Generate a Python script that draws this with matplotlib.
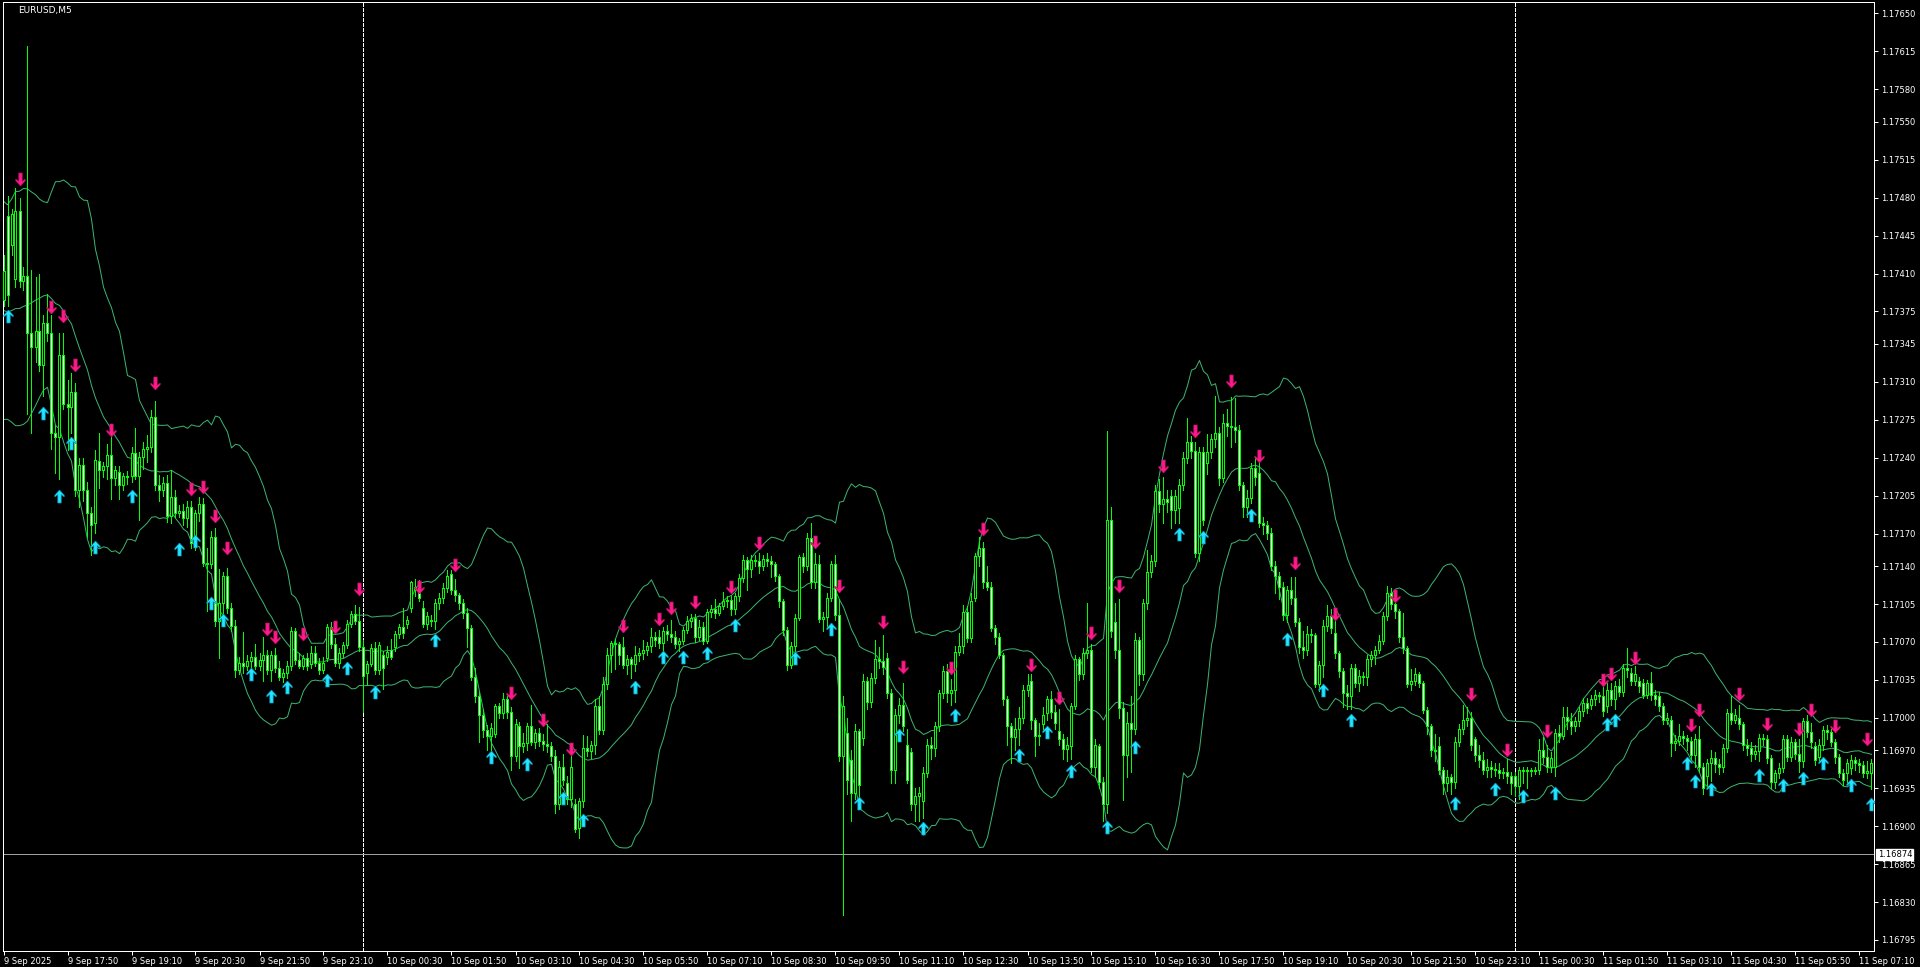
import numpy as np
import pandas as pd
import matplotlib
matplotlib.use("Agg")
import matplotlib.pyplot as plt
from matplotlib.path import Path
import matplotlib.transforms as mtransforms

# EURUSD M5, 9 Sep 16:30 -> 11 Sep 07:25, prices as 1.xxxxx -> stored as xxxxx (+1.0)
opens = [
    17386, 17463, 17436, 17405, 17468, 17403, 17408, 17355, 17342, 17357,
    17326, 17364, 17355, 17263, 17259, 17335, 17290, 17287, 17301, 17210,
    17233, 17210, 17189, 17180, 17237, 17229, 17232, 17243, 17221, 17227,
    17215, 17223, 17223, 17244, 17223, 17241, 17248, 17250, 17278, 17215,
    17210, 17217, 17186, 17204, 17189, 17191, 17184, 17195, 17161, 17189,
    17197, 17143, 17142, 17167, 17089, 17106, 17131, 17101, 17085, 17044,
    17051, 17048, 17052, 17056, 17048, 17053, 17058, 17044, 17058, 17046,
    17038, 17041, 17048, 17080, 17053, 17048, 17055, 17050, 17060, 17051,
    17044, 17055, 17084, 17068, 17051, 17060, 17067, 17087, 17096, 17089,
    17065, 17041, 17050, 17064, 17044, 17058, 17056, 17063, 17065, 17077,
    17084, 17087, 17101, 17118, 17125, 17101, 17087, 17090, 17089, 17106,
    17111, 17120, 17133, 17118, 17113, 17106, 17097, 17083, 17038, 17020,
    17003, 16989, 16983, 16985, 17011, 17004, 17017, 17005, 16965, 16992,
    16974, 16977, 16992, 16978, 16986, 16979, 16976, 16974, 16965, 16920,
    16955, 16940, 16925, 16920, 16898, 16923, 16972, 16969, 16975, 17011,
    16989, 17031, 17058, 17069, 17068, 17065, 17049, 17054, 17050, 17058,
    17060, 17063, 17066, 17075, 17075, 17069, 17080, 17077, 17075, 17068,
    17071, 17081, 17089, 17092, 17075, 17084, 17071, 17098, 17100, 17097,
    17103, 17108, 17109, 17100, 17112, 17129, 17146, 17137, 17146, 17145,
    17140, 17147, 17145, 17142, 17131, 17108, 17081, 17049, 17066, 17092,
    17148, 17140, 17166, 17125, 17142, 17091, 17093, 17111, 17142, 17095,
    16965, 16986, 16961, 16931, 16988, 16981, 17034, 17015, 17037, 17054,
    17052, 17055, 17023, 16952, 17003, 17012, 16975, 16968, 16920, 16928,
    16923, 16949, 16975, 16972, 16992, 17023, 17043, 17023, 17026, 17061,
    17066, 17098, 17074, 17111, 17149, 17157, 17125, 17121, 17083, 17075,
    17058, 17017, 16992, 16982, 16990, 17000, 17026, 17034, 16998, 16983,
    16994, 17004, 17017, 17005, 16988, 16980, 16971, 16974, 17011, 17054,
    17040, 17060, 17063, 16955, 16974, 16941, 16920, 17183, 17088, 17063,
    17009, 16966, 16995, 16990, 17072, 17040, 17106, 17135, 17145, 17209,
    17197, 17202, 17205, 17192, 17194, 17215, 17240, 17255, 17246, 17152,
    17245, 17235, 17245, 17257, 17263, 17221, 17272, 17269, 17268, 17266,
    17215, 17195, 17203, 17231, 17226, 17180, 17178, 17171, 17140, 17131,
    17121, 17095, 17118, 17111, 17088, 17065, 17063, 17077, 17076, 17031,
    17049, 17085, 17094, 17078, 17060, 17043, 17023, 17020, 17046, 17032,
    17039, 17038, 17054, 17058, 17063, 17071, 17094, 17115, 17105, 17099,
    17075, 17064, 17031, 17034, 17040, 17032, 17007, 16992, 16970, 16974,
    16952, 16940, 16945, 16941, 16978, 16990, 16998, 17000, 16980, 16966,
    16961, 16952, 16955, 16953, 16952, 16949, 16950, 16946, 16946, 16937,
    16952, 16951, 16952, 16951, 16952, 16970, 16964, 16955, 16955, 16986,
    16983, 17001, 16997, 16992, 16997, 17006, 17014, 17012, 17017, 17021,
    17020, 17011, 17026, 17017, 17029, 17024, 17046, 17041, 17034, 17034,
    17032, 17021, 17032, 17021, 17020, 17011, 16998, 16998, 16977, 16979,
    16983, 16981, 16979, 16966, 16980, 16955, 16946, 16958, 16963, 16957,
    16955, 16972, 17004, 16998, 17000, 16994, 16975, 16972, 16967, 16969,
    16981, 16980, 16963, 16941, 16949, 16954, 16980, 16964, 16978, 16967,
    16960, 16997, 16987, 16974, 16964, 16975, 16989, 16987, 16978, 16964,
    16949, 16949, 16954, 16961, 16958, 16956, 16949, 16949,
]
highs = [
    17427, 17482, 17470, 17489, 17480, 17416, 17620, 17413, 17407, 17410,
    17372, 17391, 17372, 17270, 17355, 17355, 17312, 17318, 17309, 17240,
    17240, 17218, 17195, 17247, 17263, 17236, 17253, 17263, 17232, 17232,
    17226, 17228, 17250, 17267, 17245, 17255, 17261, 17284, 17292, 17224,
    17222, 17224, 17229, 17210, 17196, 17197, 17200, 17200, 17192, 17204,
    17203, 17157, 17172, 17175, 17137, 17135, 17138, 17106, 17090, 17056,
    17079, 17058, 17061, 17068, 17060, 17075, 17063, 17062, 17064, 17052,
    17045, 17052, 17084, 17083, 17060, 17058, 17060, 17066, 17066, 17055,
    17056, 17087, 17088, 17074, 17064, 17070, 17090, 17099, 17104, 17102,
    17072, 17052, 17068, 17070, 17070, 17062, 17066, 17073, 17080, 17087,
    17101, 17094, 17126, 17128, 17127, 17108, 17098, 17095, 17110, 17115,
    17124, 17136, 17136, 17128, 17115, 17110, 17101, 17086, 17046, 17024,
    17008, 16993, 16995, 17013, 17014, 17023, 17022, 17010, 16999, 16996,
    16986, 16995, 17012, 16990, 16991, 16985, 16994, 16978, 16970, 16960,
    16967, 16946, 16965, 16925, 16926, 16984, 16983, 16979, 17017, 17020,
    17038, 17064, 17071, 17073, 17070, 17075, 17058, 17056, 17066, 17064,
    17072, 17070, 17083, 17079, 17081, 17084, 17086, 17090, 17080, 17074,
    17084, 17094, 17096, 17096, 17090, 17088, 17100, 17104, 17110, 17106,
    17116, 17112, 17112, 17115, 17133, 17150, 17148, 17150, 17150, 17152,
    17150, 17152, 17149, 17144, 17133, 17110, 17084, 17070, 17096, 17150,
    17152, 17171, 17180, 17152, 17150, 17098, 17115, 17145, 17150, 17110,
    17020, 17000, 16970, 16994, 16990, 17040, 17038, 17041, 17072, 17065,
    17076, 17060, 17027, 17008, 17018, 17032, 16990, 16972, 16935, 16936,
    16955, 16980, 16982, 16996, 17026, 17048, 17050, 17036, 17066, 17078,
    17104, 17103, 17115, 17152, 17167, 17162, 17140, 17125, 17086, 17078,
    17060, 17020, 16995, 17000, 17010, 17030, 17040, 17040, 17000, 16995,
    17010, 17020, 17025, 17012, 17008, 16985, 16982, 17014, 17058, 17056,
    17064, 17106, 17068, 16980, 16976, 16945, 17265, 17195, 17106, 17110,
    17015, 17005, 17020, 17078, 17075, 17110, 17155, 17150, 17215, 17220,
    17222, 17210, 17210, 17210, 17220, 17245, 17277, 17260, 17255, 17250,
    17250, 17262, 17262, 17297, 17268, 17280, 17285, 17296, 17295, 17270,
    17218, 17210, 17235, 17240, 17235, 17185, 17182, 17175, 17145, 17135,
    17125, 17122, 17130, 17130, 17092, 17080, 17085, 17082, 17078, 17052,
    17090, 17104, 17100, 17090, 17062, 17046, 17030, 17050, 17050, 17044,
    17042, 17058, 17062, 17066, 17076, 17098, 17122, 17120, 17106, 17100,
    17097, 17066, 17045, 17046, 17042, 17034, 17010, 16994, 16985, 16982,
    16955, 16952, 16948, 16982, 16994, 17012, 17010, 17005, 16982, 16975,
    16968, 16962, 16960, 16958, 16958, 16954, 16962, 16950, 16950, 16955,
    16955, 16955, 16954, 16955, 16980, 16982, 16975, 16968, 16990, 16993,
    17010, 17010, 17004, 17001, 17010, 17018, 17018, 17021, 17026, 17024,
    17028, 17032, 17032, 17034, 17036, 17050, 17064, 17046, 17048, 17038,
    17036, 17035, 17042, 17026, 17024, 17014, 17004, 17002, 16984, 16994,
    16988, 16984, 16982, 16985, 16992, 16958, 16962, 16970, 16968, 16962,
    16976, 17008, 17020, 17008, 17012, 16996, 16980, 16978, 16975, 16985,
    16985, 16984, 16966, 16952, 16958, 16984, 16984, 16982, 16980, 16980,
    17000, 17003, 16995, 16978, 16980, 16992, 16993, 16990, 16980, 16967,
    16953, 16962, 16966, 16964, 16962, 16960, 16960, 16962,
]
lows = [
    17380, 17380, 17427, 17398, 17398, 17395, 17280, 17263, 17328, 17320,
    17297, 17348, 17248, 17226, 17220, 17285, 17247, 17263, 17205, 17195,
    17200, 17167, 17150, 17171, 17212, 17222, 17220, 17202, 17215, 17202,
    17210, 17216, 17218, 17220, 17183, 17230, 17236, 17245, 17210, 17200,
    17205, 17181, 17180, 17185, 17185, 17178, 17176, 17157, 17155, 17182,
    17140, 17099, 17138, 17085, 17055, 17095, 17097, 17080, 17038, 17040,
    17041, 17044, 17046, 17045, 17044, 17034, 17040, 17034, 17042, 17035,
    17033, 17037, 17044, 17050, 17046, 17045, 17044, 17046, 17048, 17040,
    17041, 17052, 17064, 17048, 17046, 17056, 17064, 17084, 17087, 17062,
    17005, 17030, 17048, 17040, 17040, 17027, 17050, 17054, 17062, 17074,
    17074, 17083, 17098, 17112, 17108, 17084, 17082, 17085, 17082, 17100,
    17106, 17116, 17114, 17108, 17100, 17092, 17065, 17035, 17015, 16978,
    16982, 16970, 16967, 16982, 17000, 17000, 17000, 16952, 16960, 16954,
    16968, 16970, 16975, 16972, 16974, 16970, 16968, 16960, 16912, 16916,
    16938, 16920, 16918, 16895, 16889, 16918, 16965, 16963, 16967, 16985,
    16985, 17027, 17042, 17045, 17050, 17046, 17040, 17037, 17043, 17052,
    17054, 17058, 17061, 17066, 17064, 17060, 17072, 17070, 17064, 17062,
    17068, 17078, 17084, 17070, 17072, 17068, 17069, 17093, 17092, 17095,
    17100, 17102, 17095, 17096, 17108, 17125, 17118, 17130, 17140, 17134,
    17136, 17140, 17130, 17126, 17102, 17076, 17044, 17046, 17062, 17090,
    17135, 17136, 17120, 17120, 17088, 17080, 17085, 17108, 17090, 16960,
    16818, 16930, 16905, 16925, 16928, 16975, 17008, 17010, 17032, 17046,
    17040, 17018, 16940, 16940, 16995, 16988, 16940, 16915, 16905, 16905,
    16908, 16945, 16962, 16965, 16988, 17018, 17015, 17012, 17015, 17058,
    17060, 17070, 17070, 17108, 17140, 17120, 17118, 17080, 17068, 17055,
    17012, 16975, 16958, 16970, 16975, 16995, 17020, 16990, 16965, 16975,
    16990, 16998, 17000, 16990, 16975, 16962, 16960, 16962, 17008, 17035,
    17036, 17055, 16950, 16945, 16935, 16905, 16912, 17075, 17055, 17000,
    16924, 16945, 16950, 16985, 17030, 17035, 17100, 17130, 17140, 17190,
    17180, 17190, 17175, 17180, 17180, 17210, 17235, 17240, 17148, 17145,
    17178, 17225, 17240, 17250, 17215, 17218, 17260, 17250, 17255, 17210,
    17185, 17185, 17198, 17215, 17176, 17170, 17165, 17136, 17115, 17110,
    17090, 17088, 17105, 17085, 17060, 17055, 17058, 17070, 17028, 17025,
    17038, 17080, 17078, 17055, 17038, 17010, 17008, 17008, 17028, 17025,
    17030, 17030, 17048, 17050, 17060, 17068, 17090, 17100, 17092, 17070,
    17060, 17028, 17026, 17030, 17028, 17004, 16985, 16965, 16960, 16948,
    16930, 16932, 16930, 16935, 16974, 16985, 16992, 16970, 16960, 16955,
    16948, 16945, 16945, 16946, 16944, 16944, 16940, 16930, 16928, 16925,
    16940, 16935, 16946, 16948, 16948, 16958, 16950, 16950, 16946, 16978,
    16980, 16990, 16985, 16988, 16992, 17002, 17004, 17008, 17012, 17015,
    17002, 17005, 17012, 17008, 17020, 17020, 17038, 17030, 17030, 17024,
    17018, 17018, 17016, 17012, 17006, 16994, 16994, 16965, 16970, 16975,
    16976, 16970, 16962, 16955, 16950, 16930, 16935, 16942, 16950, 16948,
    16950, 16968, 16994, 16995, 16990, 16970, 16966, 16960, 16962, 16960,
    16975, 16958, 16935, 16935, 16944, 16950, 16960, 16960, 16962, 16950,
    16955, 16982, 16972, 16956, 16960, 16970, 16980, 16974, 16958, 16945,
    16938, 16940, 16948, 16952, 16950, 16945, 16944, 16934,
]
closes = [
    17412, 17390, 17465, 17468, 17403, 17408, 17355, 17342, 17357, 17326,
    17364, 17355, 17263, 17259, 17335, 17290, 17287, 17301, 17210, 17233,
    17210, 17189, 17178, 17238, 17229, 17232, 17243, 17221, 17229, 17215,
    17223, 17222, 17244, 17223, 17241, 17248, 17250, 17278, 17215, 17210,
    17217, 17186, 17204, 17189, 17191, 17184, 17195, 17161, 17189, 17197,
    17143, 17142, 17167, 17089, 17106, 17131, 17101, 17085, 17044, 17051,
    17048, 17052, 17056, 17048, 17053, 17058, 17044, 17058, 17046, 17038,
    17041, 17048, 17080, 17053, 17048, 17055, 17048, 17060, 17051, 17044,
    17051, 17084, 17068, 17051, 17060, 17067, 17087, 17096, 17089, 17065,
    17039, 17050, 17064, 17044, 17067, 17046, 17061, 17056, 17077, 17084,
    17078, 17090, 17125, 17121, 17111, 17087, 17094, 17089, 17106, 17111,
    17120, 17131, 17118, 17113, 17106, 17097, 17083, 17038, 17020, 17003,
    16989, 16983, 16991, 17011, 17004, 17017, 17005, 16965, 16994, 16974,
    16977, 16992, 16978, 16986, 16979, 16976, 16974, 16965, 16920, 16955,
    16943, 16925, 16955, 16897, 16923, 16972, 16969, 16975, 17011, 16989,
    17031, 17058, 17069, 17068, 17058, 17049, 17054, 17050, 17058, 17060,
    17063, 17066, 17075, 17072, 17069, 17080, 17077, 17075, 17068, 17071,
    17081, 17089, 17092, 17075, 17084, 17071, 17098, 17100, 17097, 17103,
    17108, 17109, 17100, 17112, 17129, 17146, 17137, 17146, 17145, 17140,
    17147, 17145, 17142, 17131, 17108, 17081, 17049, 17066, 17092, 17148,
    17140, 17166, 17125, 17142, 17091, 17093, 17111, 17142, 17095, 16965,
    17011, 16943, 16931, 16988, 16938, 17034, 17015, 17037, 17054, 17052,
    17047, 17023, 16952, 17003, 17012, 16992, 16943, 16920, 16928, 16931,
    16949, 16975, 16972, 16992, 17023, 17043, 17023, 17026, 17061, 17066,
    17098, 17074, 17108, 17149, 17157, 17125, 17121, 17083, 17075, 17058,
    17017, 16992, 16982, 16990, 17000, 17026, 17030, 16998, 16983, 16984,
    17003, 17017, 17005, 16995, 16980, 16971, 16975, 17011, 17054, 17040,
    17060, 17063, 16955, 16975, 16941, 16920, 17183, 17080, 17063, 17009,
    16966, 16995, 16990, 17072, 17040, 17106, 17135, 17145, 17209, 17197,
    17202, 17199, 17192, 17205, 17215, 17240, 17255, 17246, 17152, 17245,
    17183, 17245, 17257, 17263, 17221, 17272, 17269, 17268, 17266, 17215,
    17195, 17203, 17231, 17222, 17180, 17178, 17171, 17140, 17131, 17121,
    17095, 17118, 17111, 17088, 17065, 17063, 17077, 17076, 17031, 17049,
    17085, 17094, 17083, 17060, 17043, 17023, 17020, 17046, 17032, 17039,
    17038, 17054, 17058, 17063, 17071, 17094, 17115, 17105, 17099, 17075,
    17064, 17031, 17034, 17040, 17032, 17007, 16992, 16970, 16969, 16952,
    16940, 16945, 16941, 16978, 16990, 16998, 17000, 16975, 16966, 16961,
    16952, 16955, 16953, 16952, 16949, 16950, 16946, 16940, 16937, 16952,
    16951, 16952, 16951, 16952, 16970, 16964, 16955, 16963, 16986, 16983,
    17001, 16997, 16992, 16997, 17006, 17014, 17009, 17017, 17021, 17020,
    17006, 17026, 17017, 17029, 17024, 17046, 17044, 17034, 17040, 17029,
    17021, 17032, 17021, 17017, 17011, 16998, 17000, 16977, 16979, 16983,
    16981, 16979, 16966, 16980, 16955, 16935, 16958, 16963, 16957, 16955,
    16972, 17004, 16998, 17003, 16994, 16975, 16972, 16967, 16969, 16981,
    16980, 16963, 16941, 16949, 16954, 16980, 16964, 16978, 16967, 16960,
    16997, 16987, 16978, 16961, 16975, 16989, 16987, 16978, 16964, 16949,
    16943, 16958, 16961, 16958, 16956, 16949, 16951, 16958,
]
# closes of the 19 bars before the window (needed for the 20-period bands)
prev_closes = [17420, 17440, 17430, 17400, 17370, 17330, 17300, 17310, 17290, 17320,
               17338, 17330, 17350, 17370, 17390, 17420, 17410, 17440, 17450]

# signal arrows: bar index and price level
up_bars = [1, 10, 14, 17, 23, 32, 44, 48, 52, 55, 62, 67, 71, 81, 86, 93, 108,
           122, 131, 140, 145, 158, 165, 170, 176, 183, 198, 207, 214, 224, 230,
           238, 254, 261, 267, 276, 283, 294, 300, 312, 321, 330, 337,
           363, 373, 380, 388, 401, 403, 421, 423, 427, 439, 445, 450, 455, 462, 467]
up_prices = [17371, 17281, 17205, 17254, 17158, 17205, 17156, 17163, 17106, 17090, 17040, 17020, 17028, 17035, 17046, 17024, 17072,
             16964, 16957, 16926, 16906, 17028, 17056, 17056, 17060, 17086, 17055, 17082, 16921, 16984, 16898,
             17003, 16966, 16987, 16951, 16899, 16973, 17170, 17167, 17187, 17073, 17026, 16998,
             16921, 16934, 16928, 16931, 16994, 16998, 16958, 16942, 16934, 16947, 16938, 16944, 16958, 16938, 16920]
down_bars = [4, 12, 15, 18, 27, 38, 47, 50, 53, 56, 66, 68, 75, 83, 89, 104, 113,
             127, 135, 142, 155, 164, 167, 173, 182, 189, 203, 209, 220, 225,
             237, 245, 257, 264, 272, 279, 290, 298, 307, 314, 323, 333, 348,
             367, 376, 386, 400, 402, 408, 422, 424, 434, 441, 449, 452, 458, 466]
down_prices = [17497, 17379, 17371, 17326, 17266, 17309, 17211, 17213, 17186, 17157, 17082, 17075, 17077, 17084, 17119, 17121, 17141,
               17023, 16998, 16971, 17085, 17091, 17101, 17107, 17121, 17161, 17162, 17122, 17088, 17047,
               17046, 17174, 17049, 17018, 17078, 17122, 17232, 17265, 17311, 17242, 17143, 17096, 17112,
               17022, 16970, 16988, 17035, 17040, 17055, 16993, 17007, 17022, 16994, 16990, 17007, 16992, 16980]

time_labels = ["9 Sep 2025", "9 Sep 17:50", "9 Sep 19:10", "9 Sep 20:30", "9 Sep 21:50", "9 Sep 23:10",
               "10 Sep 00:30", "10 Sep 01:50", "10 Sep 03:10", "10 Sep 04:30", "10 Sep 05:50", "10 Sep 07:10",
               "10 Sep 08:30", "10 Sep 09:50", "10 Sep 11:10", "10 Sep 12:30", "10 Sep 13:50", "10 Sep 15:10",
               "10 Sep 16:30", "10 Sep 17:50", "10 Sep 19:10", "10 Sep 20:30", "10 Sep 21:50", "10 Sep 23:10",
               "11 Sep 00:30", "11 Sep 01:50", "11 Sep 03:10", "11 Sep 04:30", "11 Sep 05:50", "11 Sep 07:10"]
time_label_bars = list(range(0, 465, 16))
day_start_bars = [90, 378]
price_ticks = [1.17650, 1.17615, 1.17580, 1.17550, 1.17515, 1.17480, 1.17445, 1.17410, 1.17375,
               1.17345, 1.17310, 1.17275, 1.17240, 1.17205, 1.17170, 1.17140, 1.17105, 1.17070,
               1.17035, 1.17000, 1.16970, 1.16935, 1.16900, 1.16865, 1.16830, 1.16795]
hline_price = 1.16874


def px(v):
    return np.asarray(v, dtype=float) / 1e5 + 1.0


o, h, l, c = px(opens), px(highs), px(lows), px(closes)
n = len(c)
x = np.arange(n)

# Bollinger bands (20, 2)
s = pd.Series(np.r_[px(prev_closes), c])
mid = s.rolling(20).mean()
sd = s.rolling(20).std(ddof=0)
upper = (mid + 2 * sd).values[-n:]
lower = (mid - 2 * sd).values[-n:]
mid = mid.values[-n:]

W, H = 1920, 967
PX = 0.72  # one pixel in points at 100 dpi
fig = plt.figure(figsize=(W / 100, H / 100), dpi=100, facecolor="black")
ax = fig.add_axes([3 / W, 16 / H, 1871 / W, 949 / H])
ax.set_facecolor("black")

lime = "#00ff00"
band = "#3cb371"

for b in day_start_bars:
    ax.axvline(b, color="white", lw=PX, linestyle=(0, (4, 2)), zorder=1, antialiased=False)
ax.axhline(hline_price, color="#a0a0a0", lw=PX, zorder=1, antialiased=False)

ax.plot(x, upper, color=band, lw=PX, zorder=2)
ax.plot(x, mid, color=band, lw=PX, zorder=2)
ax.plot(x, lower, color=band, lw=PX, zorder=2)

ax.vlines(x, l, h, color=lime, lw=PX, zorder=3, antialiased=False)
bear = c < o
ax.bar(x, np.abs(c - o), bottom=np.minimum(o, c), width=0.5,
       color=np.where(bear, "white", "black"), edgecolor=lime, linewidth=PX,
       zorder=4, antialiased=False)

# arrow markers
arrow = [(0, 0.5), (0.36, 0.1), (0.36, -0.02), (0.13, 0.14), (0.13, -0.5),
         (-0.13, -0.5), (-0.13, 0.14), (-0.36, -0.02), (-0.36, 0.1), (0, 0.5)]
up_path = Path(arrow)
down_path = Path([(vx, -vy) for vx, vy in arrow])
ax.scatter(up_bars, px(up_prices), marker=up_path, s=(13 * PX) ** 2,
           facecolor="#22e6ff", edgecolor="#0b8fb5", linewidths=0.5, zorder=5)
ax.scatter(down_bars, px(down_prices), marker=down_path, s=(13 * PX) ** 2,
           facecolor="#ff1a8c", edgecolor="#b3125f", linewidths=0.5, zorder=5)

ax.set_xlim(-0.125, 467.625)
ax.set_ylim(1.167848, 1.176606)

for sp in ax.spines.values():
    sp.set_color("white")
    sp.set_linewidth(PX)

ax.yaxis.tick_right()
ax.set_yticks(price_ticks)
ax.set_yticklabels([f"{p:.5f}" for p in price_ticks])
ax.tick_params(axis="y", direction="out", length=3, width=PX, colors="white",
               labelsize=6, pad=2)
ax.set_xticks(time_label_bars)
ax.set_xticklabels(time_labels)
ax.tick_params(axis="x", direction="out", length=3, width=PX, colors="white",
               labelsize=6, pad=1)
for t in ax.get_xticklabels():
    t.set_horizontalalignment("left")

ax.text(1.002, hline_price, f"{hline_price:.5f}", transform=mtransforms.blended_transform_factory(ax.transAxes, ax.transData),
        fontsize=6, color="black", va="center", ha="left",
        bbox=dict(boxstyle="square,pad=0.15", facecolor="white", edgecolor="white"))

fig.text(18 / W, 1 - 11 / H, "EURUSD,M5", color="white", fontsize=6.5, va="center", ha="left")

fig.savefig("out.png", dpi=100, facecolor="black")
